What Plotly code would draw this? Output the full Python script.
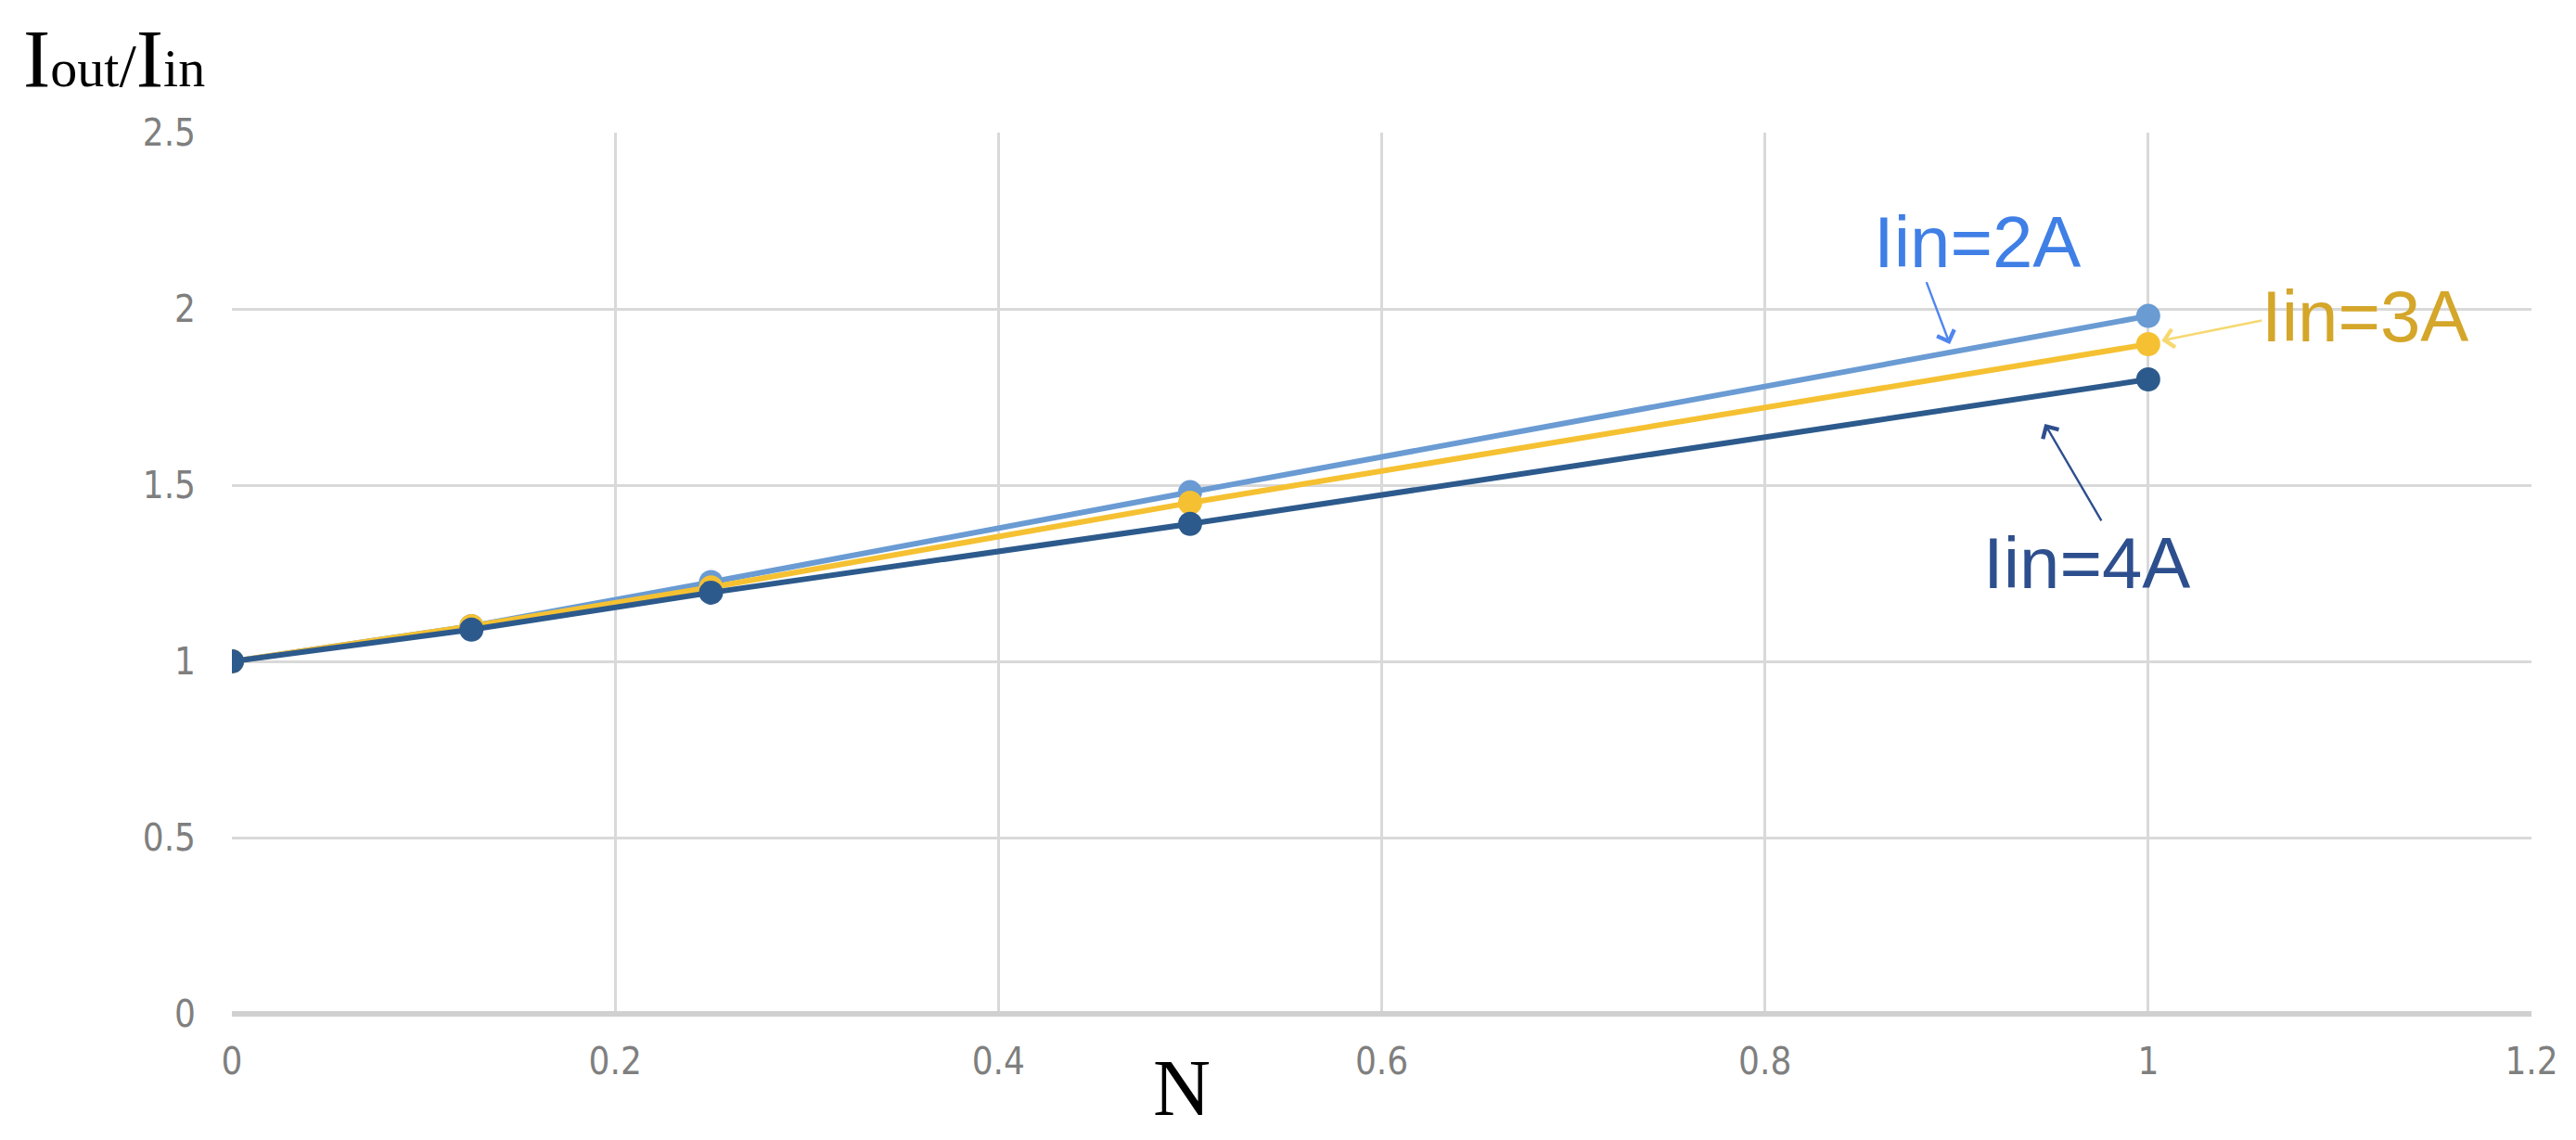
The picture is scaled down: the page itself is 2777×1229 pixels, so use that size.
import plotly.graph_objects as go

# N values and current ratio for each input current
n_values = [0, 0.125, 0.25, 0.5, 1]
ratio_2a = [1.0, 1.10, 1.225, 1.48, 1.98]
ratio_3a = [1.0, 1.10, 1.21, 1.45, 1.90]
ratio_4a = [1.0, 1.09, 1.195, 1.39, 1.80]

series = [
    ("Iin=2A", ratio_2a, "#6A9BD3"),
    ("Iin=3A", ratio_3a, "#F5C132"),
    ("Iin=4A", ratio_4a, "#2D5A8C"),
]

fig = go.Figure()
for name, vals, color in series:
    fig.add_trace(go.Scatter(
        x=n_values, y=vals, name=name, mode="lines+markers",
        line=dict(color=color, width=6),
        marker=dict(color=color, size=26),
    ))

label_font = "Liberation Sans, Arial, sans-serif"
# (text, color, text x/y, arrow tail x/y, arrow head x/y, arrow color)
labels = [
    ("Iin=2A", "#3F7FE6", 0.911, 2.19, (0.884, 2.08), (0.8965, 1.90), "#4F86F0"),
    ("Iin=3A", "#D4A62A", 1.113, 1.98, (1.060, 1.968), (1.007, 1.91), "#F7D870"),
    ("Iin=4A", "#2E4F8E", 0.968, 1.28, (0.976, 1.395), (0.946, 1.674), "#2E4F8E"),
]
for text, color, tx, ty, tail, head, acolor in labels:
    fig.add_annotation(x=tx, y=ty, text=text, showarrow=False,
                       font=dict(family=label_font, size=78, color=color))
    fig.add_annotation(x=head[0], y=head[1], ax=tail[0], ay=tail[1],
                       axref="x", ayref="y", text="", showarrow=True,
                       arrowhead=4, arrowsize=1.6, arrowwidth=2.4,
                       arrowcolor=acolor)

serif = "Liberation Serif, Times New Roman, serif"
fig.add_annotation(
    xref="paper", yref="paper", x=-0.091, y=1.032, xanchor="left", yanchor="bottom",
    text="I<span style='font-size:58px'>out</span>"
         "<span style='font-size:66px'>/</span>"
         "I<span style='font-size:58px'>in</span>",
    showarrow=False, borderpad=0, font=dict(family=serif, size=88, color="black"))
fig.add_annotation(
    xref="paper", yref="paper", x=0.413, y=-0.136, text="N",
    showarrow=False, borderpad=0, font=dict(family=serif, size=86, color="black"))

tick_font = dict(family="Liberation Sans Narrow, DejaVu Sans Condensed, sans-serif",
                 size=40, color="#7F7F7F")
# page body adds an 8px margin, so the figure is shifted and trimmed to fit
fig.update_layout(
    width=2761, height=1221,
    margin=dict(l=242, r=40, t=135, b=136),
    paper_bgcolor="white", plot_bgcolor="white",
    showlegend=False,
)
fig.update_xaxes(
    range=[0, 1.2], tickvals=[0, 0.2, 0.4, 0.6, 0.8, 1, 1.2],
    ticktext=["0", "0.2", "0.4", "0.6", "0.8", "1", "1.2"],
    showgrid=True, gridcolor="#D9D9D9", gridwidth=3,
    zeroline=False, showline=False, tickfont=tick_font, ticklabelstandoff=24,
)
fig.update_yaxes(
    range=[0, 2.5], tickvals=[0, 0.5, 1, 1.5, 2, 2.5],
    ticktext=["0", "0.5", "1", "1.5", "2", "2.5"],
    showgrid=True, gridcolor="#D9D9D9", gridwidth=3,
    zeroline=True, zerolinecolor="#D0D0D0", zerolinewidth=6,
    showline=False, tickfont=tick_font, ticklabelstandoff=38,
)

fig.write_html("out.html")
